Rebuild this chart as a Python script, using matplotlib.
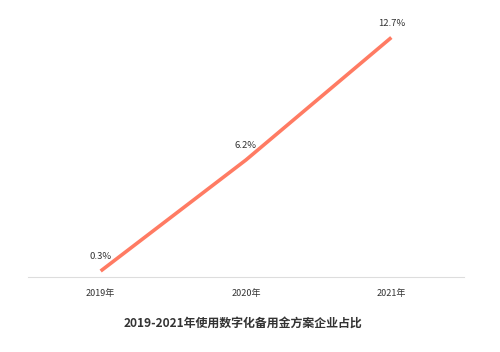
import matplotlib
matplotlib.use("Agg")
import matplotlib.pyplot as plt

plt.rcParams['font.family'] = ['Noto Sans CJK SC', 'DejaVu Sans']

# Data
years = ["2019年", "2020年", "2021年"]
share = [0.3, 6.2, 12.7]
labels = ["0.3%", "6.2%", "12.7%"]
title = "2019-2021年使用数字化备用金方案企业占比"

fig = plt.figure(figsize=(5, 3.52), dpi=100)
ax = fig.add_axes([0.056, 0.214, 0.872, 0.749])

x = list(range(len(years)))
ax.plot(x, share, color="#FF7B63", linewidth=2.6, solid_capstyle="butt")

for xi, yi, lab in zip(x, share, labels):
    ax.annotate(lab, (xi, yi), xytext=(0, 7), textcoords="offset points",
                ha="center", va="bottom", fontsize=6.8, color="#333333")

ax.set_xlim(-0.5, 2.5)
ax.set_ylim(0, 14)
ax.set_xticks(x)
ax.set_xticklabels(years, fontsize=6.5, color="#333333")
ax.tick_params(axis="x", length=0, pad=9)
ax.set_yticks([])
for side in ["top", "right", "left"]:
    ax.spines[side].set_visible(False)
ax.spines["bottom"].set_color("#dddddd")
ax.spines["bottom"].set_linewidth(0.8)

fig.text(0.486, 0.083, title, ha="center", va="center", fontsize=8.6,
         fontweight="bold", color="#333333")

fig.savefig("out.png", dpi=100)
